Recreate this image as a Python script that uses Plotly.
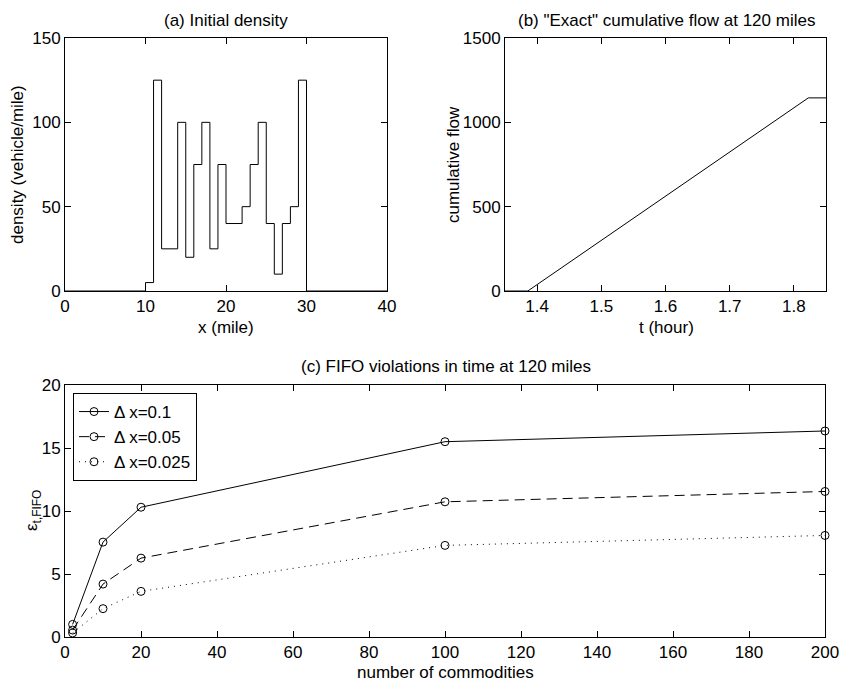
import plotly.graph_objects as go

# ---- data ----
x_edges = [0, 10, 11, 12, 14, 15, 16, 17, 18, 19, 20, 22, 23, 24, 25, 26, 27, 28, 29, 30, 40]
density = [0, 5, 125, 25, 100, 20, 75, 100, 25, 75, 40, 50, 75, 100, 40, 10, 40, 50, 125, 0, 0]

t_hour = [1.35, 1.3855, 1.8225, 1.85]
cum_flow = [0, 0, 1145, 1145]

commodities = [2, 10, 20, 100, 200]
eps_dx01 = [1.0, 7.53, 10.3, 15.5, 16.35]
eps_dx005 = [0.55, 4.2, 6.26, 10.73, 11.55]
eps_dx0025 = [0.32, 2.25, 3.62, 7.27, 8.06]

W, H = 844, 687
FONT = "Liberation Sans, Arial, Helvetica, sans-serif"
FS = 17

def px(x):
    return x / W

def py(y):
    return 1 - y / H

def xd(a, b):
    return [px(a), px(b)]

def yd(top, bottom):
    return [py(bottom), py(top)]

fig = go.Figure()

fig.add_trace(go.Scatter(x=x_edges, y=density, mode="lines", line=dict(color="black", width=1, shape="hv"),
                         xaxis="x", yaxis="y", showlegend=False))
fig.add_trace(go.Scatter(x=t_hour, y=cum_flow, mode="lines", line=dict(color="black", width=1),
                         xaxis="x2", yaxis="y2", showlegend=False))

mk = dict(symbol="circle-open", size=8, color="black", line=dict(width=1))
fig.add_trace(go.Scatter(x=commodities, y=eps_dx01, mode="lines+markers", name="Δ x=0.1",
                         line=dict(color="black", width=1, dash="solid"), marker=mk,
                         xaxis="x3", yaxis="y3", cliponaxis=False))
fig.add_trace(go.Scatter(x=commodities, y=eps_dx005, mode="lines+markers", name="Δ x=0.05",
                         line=dict(color="black", width=1, dash="10px,6px"), marker=mk,
                         xaxis="x3", yaxis="y3", cliponaxis=False))
fig.add_trace(go.Scatter(x=commodities, y=eps_dx0025, mode="lines+markers", name="Δ x=0.025",
                         line=dict(color="black", width=1, dash="1px,5px"), marker=mk,
                         xaxis="x3", yaxis="y3", cliponaxis=False))

ax_common = dict(showline=True, linecolor="black", linewidth=1, mirror="ticks", ticks="inside",
                 ticklen=6, tickcolor="black", showgrid=False, zeroline=False, automargin=False,
                 ticklabeloverflow="allow",
                 tickfont=dict(size=FS, color="black", family=FONT))

def ann(text, x, y, angle=0, size=FS):
    return dict(text=text, x=px(x), y=py(y), xref="paper", yref="paper", showarrow=False,
                textangle=angle, xanchor="center", yanchor="middle",
                font=dict(size=size, color="black", family=FONT))

fig.update_layout(
    width=W, height=H,
    margin=dict(l=0, r=0, t=0, b=0, pad=0),
    paper_bgcolor="white", plot_bgcolor="white",
    font=dict(family=FONT, color="black", size=FS),
    xaxis=dict(domain=xd(65, 387), range=[0, 40], tickvals=[0, 10, 20, 30, 40], anchor="y", **ax_common),
    yaxis=dict(domain=yd(38, 291), range=[0, 150], tickvals=[0, 50, 100, 150], anchor="x", **ax_common),
    xaxis2=dict(domain=xd(505, 826), range=[1.35, 1.85], tickvals=[1.4, 1.5, 1.6, 1.7, 1.8], anchor="y2",
                **ax_common),
    yaxis2=dict(domain=yd(38, 291), range=[0, 1500], tickvals=[0, 500, 1000, 1500], anchor="x2", **ax_common),
    xaxis3=dict(domain=xd(65, 825), range=[0, 200], tickvals=list(range(0, 201, 20)), anchor="y3", **ax_common),
    yaxis3=dict(domain=yd(385, 637), range=[0, 20], tickvals=[0, 5, 10, 15, 20], anchor="x3", **ax_common),
    legend=dict(x=px(73), y=py(393), xanchor="left", yanchor="top",
                bordercolor="black", borderwidth=1, bgcolor="white",
                font=dict(size=FS, color="black", family=FONT), tracegroupgap=0, itemwidth=30),
    annotations=[
        ann("(a) Initial density", 226, 20),
        ann("(b) \"Exact\" cumulative flow at 120 miles", 666, 20),
        ann("(c) FIFO violations in time at 120 miles", 446, 366),
        ann("x (mile)", 226, 327),
        ann("t (hour)", 666, 327),
        ann("number of commodities", 446, 672),
        ann("density (vehicle/mile)", 17, 165, angle=-90),
        ann("cumulative flow", 453, 165, angle=-90),
        ann("ε<sub>t,FIFO</sub>", 33, 511, angle=-90),
    ],
)

fig.write_html("out.html", config={"displayModeBar": False},
               post_script="document.body.style.margin='0';document.body.style.overflow='hidden';")
